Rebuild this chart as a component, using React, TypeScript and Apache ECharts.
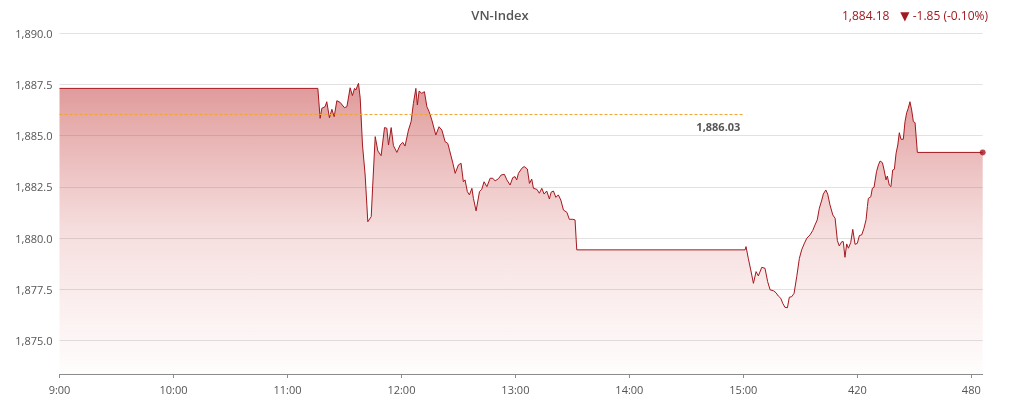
import React, { useEffect, useRef } from "react";
import * as echarts from "echarts";

// minutes since 9:00
const times: number[] = [
  0, 136, 137.2, 138.1, 139.8, 140.7, 142.1, 143.4, 144.6, 146.0, 147.7, 150.0, 151.3, 153.0, 154.2, 155.3, 156.0,
  157.4, 158.3, 159.5, 160.9, 162.3, 164.1, 164.9, 166.2, 167.6, 169.3, 171.1, 172.3, 173.2, 174.6, 175.8, 177.6,
  179.3, 180.7, 181.9, 183.7, 185.1, 186.3, 187.6, 188.4, 189.3, 190.7, 192.1, 193.4, 194.6, 196.0, 198.1, 199.8,
  201.3, 203.0, 204.4, 205.3, 207.1, 208.3, 210.0, 211.4, 212.6, 213.5, 214.7, 215.8, 217.1, 217.9, 219.3, 221.1,
  222.3, 223.5, 225.0, 226.7, 228.1, 229.3, 231.1, 232.5, 234.2, 235.5, 237.2, 238.6, 239.8, 240.7, 241.6, 243.4,
  244.6, 246.3, 247.4, 248.6, 249.5, 251.3, 252.6, 253.9, 255.1, 256.5, 257.9, 258.8, 260.0, 261.3, 262.6, 263.9,
  265.3, 267.1, 268.4, 270.2, 271.4, 272.3, 360.9, 361.4, 362.6, 363.9, 365.3, 366.7, 367.9, 369.7, 371.4, 372.8,
  374.1, 375.8, 377.2, 378.4, 379.7, 380.7, 381.9, 383.2, 384.2, 385.5, 386.7, 388.1, 389.5, 390.7, 392.0, 393.4,
  395.1, 396.5, 397.7, 398.9, 400.0, 401.3, 402.1, 403.4, 404.4, 405.6, 407.1, 408.3, 409.5, 410.5, 411.8, 412.6,
  413.5, 414.4, 415.3, 416.5, 417.6, 418.8, 420.0, 421.1, 422.3, 423.5, 424.6, 425.3, 425.8, 427.1, 427.9, 428.8,
  430.1, 431.1, 432.0, 433.2, 434.1, 435.1, 435.8, 436.8, 437.7, 438.6, 439.5, 440.4, 441.3, 442.1, 443.0, 444.2,
  445.1, 446.0, 446.8, 447.7, 448.6, 449.5, 450.4, 451.6, 486,
];

const values: number[] = [
  1887.3, 1887.3, 1885.84, 1886.33, 1886.41, 1886.65, 1885.87, 1886.28, 1885.92, 1886.7, 1886.62, 1886.36, 1886.41,
  1887.33, 1886.95, 1887.3, 1887.22, 1887.55, 1886.82, 1884.54, 1883.08, 1880.8, 1881.05, 1882.59, 1884.95, 1884.25,
  1884.02, 1885.39, 1885.36, 1884.54, 1885.39, 1884.51, 1884.18, 1884.54, 1884.67, 1884.49, 1885.27, 1885.68,
  1886.57, 1887.3, 1886.49, 1887.17, 1887.06, 1887.14, 1886.41, 1886.16, 1885.76, 1885.03, 1885.43, 1885.27,
  1884.7, 1884.62, 1884.3, 1883.65, 1883.16, 1883.57, 1883.65, 1882.75, 1882.84, 1882.27, 1882.11, 1882.43,
  1881.94, 1881.33, 1882.27, 1882.38, 1882.75, 1882.51, 1882.92, 1882.92, 1882.79, 1882.9, 1883.08, 1883.11,
  1882.84, 1882.59, 1882.95, 1883.0, 1882.84, 1883.16, 1883.41, 1883.49, 1883.37, 1882.67, 1882.88, 1882.43,
  1882.38, 1882.19, 1882.43, 1882.15, 1882.3, 1881.91, 1882.24, 1882.3, 1881.99, 1882.11, 1881.86, 1881.37,
  1881.26, 1880.92, 1880.92, 1880.89, 1879.43, 1879.43, 1879.59, 1879.02, 1878.45, 1877.8, 1878.37, 1878.16,
  1878.58, 1878.53, 1877.88, 1877.48, 1877.44, 1877.34, 1877.18, 1877.07, 1876.83, 1876.63, 1876.61, 1877.12,
  1877.15, 1877.31, 1878.12, 1879.02, 1879.43, 1879.72, 1880.0, 1880.16, 1880.37, 1880.64, 1880.89, 1881.46,
  1881.86, 1882.15, 1882.35, 1882.15, 1881.62, 1881.13, 1880.97, 1879.88, 1879.62, 1879.83, 1879.83, 1879.07,
  1879.72, 1879.51, 1879.78, 1880.43, 1879.7, 1879.75, 1880.13, 1880.16, 1880.48, 1880.9, 1881.54, 1881.94,
  1882.02, 1882.43, 1882.48, 1883.24, 1883.57, 1883.76, 1883.68, 1883.32, 1882.84, 1883.03, 1882.59, 1882.51,
  1883.32, 1883.36, 1884.14, 1884.54, 1885.14, 1884.82, 1884.82, 1885.68, 1886.12, 1886.33, 1886.65, 1886.25,
  1885.68, 1885.63, 1884.18, 1884.18,
];

const xTickValues: number[] = [0, 60, 120, 180, 240, 300, 360, 420, 480];
const xTickLabels: string[] = ["9:00", "10:00", "11:00", "12:00", "13:00", "14:00", "15:00", "420", "480"];

const refValue = 1886.03;
const refEnd = 360;
const lastValue = 1884.18;
const change = -1.85;
const changePct = -0.1;
const titleText = "VN-Index";

const FONT = '"Open Sans", "DejaVu Sans", sans-serif';
const RED = "#a3191f";

const fmt = (v: number, d: number) =>
  v.toLocaleString("en-US", { minimumFractionDigits: d, maximumFractionDigits: d });

export default function App() {
  const ref = useRef<HTMLDivElement>(null);
  useEffect(() => {
    if (!ref.current) return;
    const chart = echarts.init(ref.current, undefined, { renderer: "svg" });
    const data = times.map((t, i) => [t, values[i]]);
    const last = data[data.length - 1];
    const gridCommon = { left: 59.5, right: 32.3, top: 33 };
    chart.setOption({
      animation: false,
      textStyle: { fontFamily: FONT },
      grid: [
        { ...gridCommon, bottom: 31 },
        { ...gridCommon, bottom: 64.3 },
      ],
      xAxis: [
        {
          type: "value",
          gridIndex: 0,
          min: 0,
          max: 486,
          interval: 60,
          splitLine: { show: false },
          axisLine: { show: true, lineStyle: { color: "#8c8c8c", width: 1 } },
          axisTick: { show: true, length: 4, lineStyle: { color: "#8c8c8c" }, customValues: xTickValues },
          axisLabel: {
            customValues: xTickValues,
            color: "#555",
            fontSize: 11,
            fontFamily: FONT,
            margin: 10,
            formatter: (v: number) => {
              const i = xTickValues.indexOf(Math.round(v));
              return i >= 0 ? xTickLabels[i] : "";
            },
          },
        },
        { type: "value", gridIndex: 1, min: 0, max: 486, show: false },
      ],
      yAxis: [
        {
          type: "value",
          gridIndex: 0,
          min: 1873.38,
          max: 1890,
          axisLabel: { show: false },
          splitLine: { show: false },
          axisLine: { show: false },
          axisTick: { show: false },
        },
        {
          type: "value",
          gridIndex: 1,
          min: 1875,
          max: 1890,
          interval: 2.5,
          axisLine: { show: false },
          axisTick: { show: false },
          splitLine: { show: true, lineStyle: { color: "#e2e2e2", width: 1 } },
          axisLabel: {
            color: "#555",
            fontSize: 11,
            fontFamily: FONT,
            margin: 7,
            formatter: (v: number) => fmt(v, 1),
          },
        },
      ],
      series: [
        {
          type: "line",
          xAxisIndex: 0,
          yAxisIndex: 0,
          data,
          symbol: "none",
          showSymbol: false,
          lineStyle: { color: RED, width: 1 },
          areaStyle: {
            origin: "start",
            color: new echarts.graphic.LinearGradient(0, 0, 0, 1, [
              { offset: 0, color: "rgba(188,40,40,0.68)" },
              { offset: 0.5, color: "rgba(200,60,60,0.25)" },
              { offset: 1, color: "rgba(220,90,90,0.02)" },
            ]),
          },
          silent: true,
          z: 2,
          markLine: {
            silent: true,
            symbol: ["none", "none"],
            lineStyle: { color: "#f0a535", type: [3, 2], width: 1 },
            label: {
              show: true,
              position: "insideEndBottom",
              distance: [3, 7],
              formatter: () => fmt(refValue, 2),
              color: "#555",
              fontSize: 11,
              fontWeight: "bold",
              fontFamily: FONT,
            },
            data: [[{ coord: [0, refValue] }, { coord: [refEnd, refValue] }]],
          },
        },
        {
          type: "scatter",
          xAxisIndex: 0,
          yAxisIndex: 0,
          data: [last],
          symbol: "circle",
          symbolSize: 6,
          clip: false,
          itemStyle: { color: RED },
          silent: true,
          z: 3,
        },
      ],
      graphic: [
        {
          type: "text",
          x: 500,
          y: 15,
          style: {
            text: titleText,
            align: "center",
            verticalAlign: "middle",
            font: `600 13px ${FONT}`,
            fill: "#555",
          },
        },
        {
          type: "text",
          x: 842,
          y: 15,
          style: {
            text: fmt(lastValue, 2),
            align: "left",
            verticalAlign: "middle",
            font: `12px ${FONT}`,
            fill: RED,
          },
        },
        {
          type: "text",
          x: 988,
          y: 15,
          style: {
            text: `▼ ${fmt(change, 2)} (${fmt(changePct, 2)}%)`,
            align: "right",
            verticalAlign: "middle",
            font: `12px ${FONT}`,
            fill: RED,
          },
        },
      ],
    });
    return () => chart.dispose();
  }, []);
  return (
    <div
      ref={ref}
      style={{ position: "fixed", left: 0, top: 0, width: 1015, height: 405 }}
    />
  );
}
